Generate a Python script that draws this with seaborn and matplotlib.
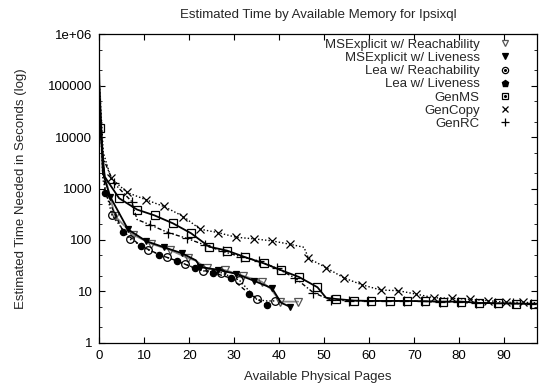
import matplotlib
matplotlib.use("Agg")
import matplotlib.pyplot as plt
from matplotlib.lines import Line2D
from matplotlib.legend_handler import HandlerTuple
from matplotlib.ticker import FixedLocator, LogLocator, NullFormatter
import seaborn as sns

sns.set_style("ticks")
plt.rcParams["font.family"] = ["Liberation Sans", "DejaVu Sans"]

# ---- data: estimated run time (s) against available physical pages ----
mse_reach_x = [0, 0.8, 3.5, 7.6, 11.6, 15.7, 19.8, 21.3, 23.9, 27.9, 32.0, 36.1, 38.2, 40.2, 44.2]
mse_reach_y = [170000, 2500, 290, 125, 84, 64, 44, 40, 28, 26, 20, 15.4, 11, 6.3, 6.3]
mse_reach_marks = [2, 3, 4, 5, 6, 8, 9, 10, 11, 13, 14]

mse_live_x = [0, 0.8, 2.4, 6.4, 10.4, 14.4, 18.4, 21.5, 22.4, 26.4, 30.4, 34.4, 38.4, 40.4, 42.4]
mse_live_y = [100000, 2000, 700, 160, 95, 72, 55, 40, 30, 26, 22, 16, 11.5, 6.0, 5.0]
mse_live_marks = [2, 3, 4, 5, 6, 8, 9, 10, 11, 12, 14]

lea_reach_x = [0, 0.8, 2.8, 6.8, 10.9, 15.0, 19.0, 23.0, 27.1, 31.1, 35.0, 37.0, 39.0]
lea_reach_y = [60000, 1500, 308, 104, 64, 46, 34, 25, 23, 16.6, 7.0, 6.5, 6.5]
lea_reach_marks = [2, 3, 4, 5, 6, 7, 8, 9, 10, 12]

lea_live_x = [0, 1.3, 5.3, 9.3, 13.3, 17.3, 21.3, 25.3, 29.3, 33.3, 37.3]
lea_live_y = [80000, 817, 146, 76, 52, 39, 28, 23, 18, 9.0, 5.3]
lea_live_marks = [1, 2, 3, 4, 5, 6, 7, 8, 9, 10]

genms_x = [0.2, 1.2, 4.4, 8.4, 12.3, 16.4, 20.4, 24.4, 28.4, 32.5, 36.6, 40.3, 44.4, 48.5,
           50.4, 52.6, 56.6, 60.5, 64.6, 68.5, 72.4, 76.4, 80.5, 84.5, 88.6, 92.6, 96.6, 97.3]
genms_y = [15000, 1700, 650, 390, 300, 210, 135, 74, 62, 46, 35, 26, 19, 12,
           7.5, 7.1, 6.6, 6.5, 6.5, 6.5, 6.4, 6.3, 6.3, 5.95, 5.85, 5.75, 5.75, 5.75]
genms_marks = [0] + list(range(2, 14)) + list(range(15, 27))

gencopy_x = [0, 0.9, 2.6, 6.2, 10.4, 14.4, 18.7, 22.4, 26.4, 30.4, 34.4, 38.4, 42.5, 45.5,
             46.5, 50.5, 54.4, 58.5, 62.6, 66.4, 70.5, 74.4, 78.5, 82.4, 86.3, 90.4, 94.2, 97.3]
gencopy_y = [120000, 5000, 1600, 840, 605, 448, 286, 162, 139, 113, 105, 96, 82, 72,
             44, 28.6, 18.2, 13.3, 10.6, 10.3, 8.8, 7.5, 7.3, 7.0, 6.6, 6.1, 6.1, 6.0]
gencopy_marks = list(range(2, 13)) + list(range(14, 27))

genrc_x = [0, 0.8, 3.2, 7.2, 8.4, 11.3, 15.3, 19.4, 23.4, 27.4, 31.5, 35.5, 39.5, 43.6,
           47.6, 51.6, 55.6, 59.7, 63.7, 67.7, 71.7, 75.8, 79.8, 83.8, 87.9, 91.9, 95.9, 97.3]
genrc_y = [40000, 4000, 1300, 560, 250, 197, 139, 108, 80, 60, 47, 39, 28, 18,
           9.4, 6.7, 6.6, 6.5, 6.5, 6.5, 6.4, 6.3, 6.3, 6.0, 5.9, 5.8, 5.75, 5.75]
genrc_marks = [2, 3] + list(range(5, 27))

series_names = ["MSExplicit w/ Reachability", "MSExplicit w/ Liveness",
                "Lea w/ Reachability", "Lea w/ Liveness", "GenMS", "GenCopy", "GenRC"]

y_tick_values = [1, 10, 100, 1000, 10000, 100000, 1000000]
y_tick_labels = ["1", "10", "100", "1000", "10000", "100000", "1e+06"]
x_tick_values = [0, 10, 20, 30, 40, 50, 60, 70, 80, 90]

FS = 9.5

# ---- styles ----
styles = [
    dict(color="#8a8a8a", ls="-", lw=1.3, marker="v", mfc="none", mec="#555555", ms=5.5),
    dict(color="black", ls="-", lw=1.3, marker="v", mfc="black", mec="black", ms=5),
    dict(color="black", ls=(0, (1, 1.5)), lw=1.0, marker="o", mfc="none", mec="black", ms=5.5),
    dict(color="black", ls=(0, (3, 2)), lw=1.0, marker="o", mfc="black", mec="black", ms=4.5),
    dict(color="black", ls="-", lw=1.3, marker="s", mfc="none", mec="black", ms=6),
    dict(color="black", ls=(0, (1, 1.5)), lw=1.0, marker="x", mfc="none", mec="black", ms=6),
    dict(color="black", ls=(0, (3, 1.5, 1, 1.5)), lw=1.0, marker="+", mfc="none", mec="black", ms=6.5),
]

data = [
    (mse_reach_x, mse_reach_y, mse_reach_marks),
    (mse_live_x, mse_live_y, mse_live_marks),
    (lea_reach_x, lea_reach_y, lea_reach_marks),
    (lea_live_x, lea_live_y, lea_live_marks),
    (genms_x, genms_y, genms_marks),
    (gencopy_x, gencopy_y, gencopy_marks),
    (genrc_x, genrc_y, genrc_marks),
]

fig = plt.figure(figsize=(5.39, 3.90), dpi=100)
ax = fig.add_axes([0.1842, 0.1213, 0.8121, 0.7903])

for (xs, ys, marks), st in zip(data, styles):
    sns.lineplot(x=xs, y=ys, ax=ax, estimator=None, sort=False, legend=False,
                 color=st["color"], linestyle=st["ls"], linewidth=st["lw"],
                 marker=st["marker"], markersize=st["ms"],
                 markerfacecolor=st["mfc"], markeredgecolor=st["mec"],
                 markeredgewidth=0.9, markevery=marks, clip_on=True)

ax.set_yscale("log")
ax.set_ylim(1, 1e6)
ax.set_xlim(0, 97.3)
ax.yaxis.set_major_locator(FixedLocator(y_tick_values))
ax.set_yticklabels(y_tick_labels)
ax.yaxis.set_minor_locator(LogLocator(base=10, subs=(2.0, 5.0)))
ax.yaxis.set_minor_formatter(NullFormatter())
ax.set_xticks(x_tick_values)

ax.tick_params(axis="both", which="major", direction="in", top=True, right=True,
               length=4.5, width=0.8, labelsize=FS, pad=5.0, colors="black")
ax.tick_params(axis="y", which="minor", direction="in", right=True, left=True,
               length=2.5, width=0.7)
for sp in ax.spines.values():
    sp.set_linewidth(0.9)
    sp.set_color("black")

ax.set_xlabel("Available Physical Pages", fontsize=FS)
ax.xaxis.set_label_coords(0.5, -0.110)
ax.xaxis.label.set_verticalalignment("center")
ax.set_ylabel("Estimated Time Needed in Seconds (log)", fontsize=FS)
ax.yaxis.set_label_coords(-0.179, 0.5)
ax.yaxis.label.set_verticalalignment("center")
ax.text(0.5, 1.063, "Estimated Time by Available Memory for Ipsixql",
        transform=ax.transAxes, ha="center", va="center", fontsize=FS)

# legend: markers only, labels right-aligned to the left of each marker
def mk(st, size):
    return Line2D([], [], linestyle="none", marker=st["marker"], markersize=size,
                  markerfacecolor=st["mfc"], markeredgecolor=st["mec"], markeredgewidth=0.9)

dot = Line2D([], [], linestyle="none", marker="o", markersize=1.2,
             markerfacecolor="black", markeredgecolor="black")
handles = [
    mk(styles[0], 4.5),
    mk(styles[1], 4.5),
    (mk(styles[2], 4.5), dot),
    Line2D([], [], linestyle="none", marker="p", markersize=4.5,
           markerfacecolor="black", markeredgecolor="black"),
    (mk(styles[4], 4.5), dot),
    mk(styles[5], 5),
    mk(styles[6], 5.5),
]
ax.legend(handles, series_names, loc="upper right", bbox_to_anchor=(0.9406, 0.987),
          bbox_transform=ax.transAxes, frameon=False, markerfirst=False,
          handlelength=0.95, handletextpad=1.42, labelspacing=0.075, borderpad=0,
          borderaxespad=0, fontsize=FS,
          handler_map={tuple: HandlerTuple(ndivide=1, pad=0)})

fig.savefig("out.png", dpi=100)
